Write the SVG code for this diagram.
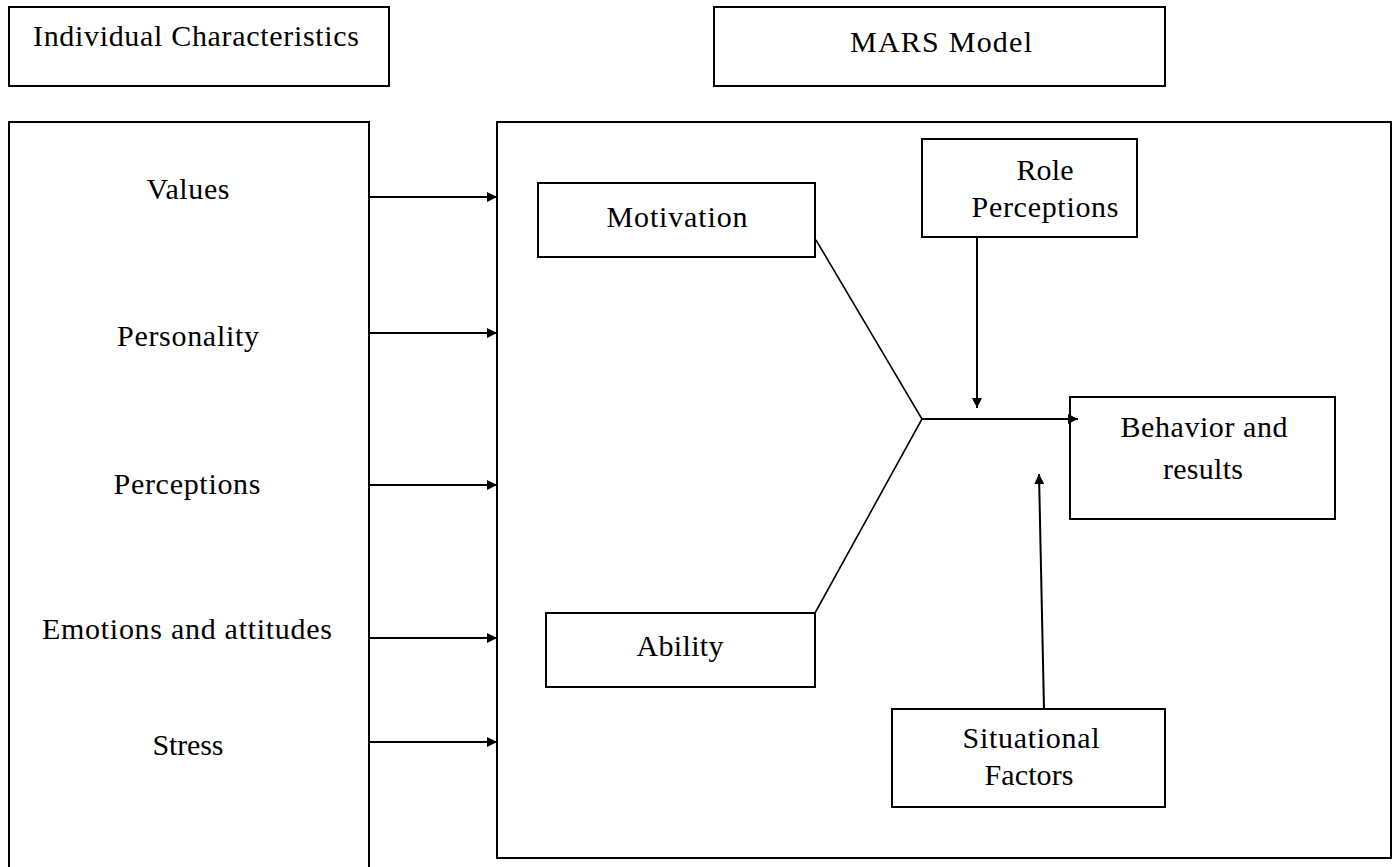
<svg xmlns="http://www.w3.org/2000/svg" width="1398" height="867" viewBox="0 0 1398 867">
  <style>
    .box { fill: #ffffff; stroke: #000000; stroke-width: 2; }
    .frame { fill: none; stroke: #000000; stroke-width: 2; }
    .lbl { font-family: "Liberation Serif", "Times New Roman", serif; font-size: 30px; fill: #000000; text-anchor: middle; }
    .conn { stroke: #000000; stroke-width: 2; fill: none; }
    .thin { stroke: #000000; stroke-width: 1.6; fill: none; }
  </style>
  <defs>
    <marker id="arrow" markerUnits="userSpaceOnUse" markerWidth="12" markerHeight="10" refX="10" refY="5" orient="auto">
      <path d="M0,0 L10,5 L0,10 Z" fill="#000000"/>
    </marker>
  </defs>
  <rect x="0" y="0" width="1398" height="867" fill="#ffffff"/>

  <g id="individual-characteristics-title">
    <rect class="box" x="9" y="7" width="380" height="79"/>
    <text class="lbl" x="196" y="46" textLength="326" lengthAdjust="spacing">Individual Characteristics</text>
  </g>

  <g id="mars-model-title">
    <rect class="box" x="714" y="7" width="451" height="79"/>
    <text class="lbl" x="941" y="52" textLength="182" lengthAdjust="spacing">MARS Model</text>
  </g>

  <g id="individual-panel">
    <path class="frame" d="M9,870 L9,122 L369,122 L369,870"/>
    <text class="lbl" x="188" y="199" textLength="83" lengthAdjust="spacing">Values</text>
    <text class="lbl" x="188" y="346" textLength="142" lengthAdjust="spacing">Personality</text>
    <text class="lbl" x="187" y="494" textLength="147" lengthAdjust="spacing">Perceptions</text>
    <text class="lbl" x="187" y="639" textLength="290" lengthAdjust="spacing">Emotions and attitudes</text>
    <text class="lbl" x="188" y="755" textLength="71" lengthAdjust="spacing">Stress</text>
  </g>

  <g id="mars-panel">
    <rect class="frame" x="497" y="122" width="894" height="736"/>
  </g>

  <g id="motivation">
    <rect class="box" x="538" y="183" width="277" height="74"/>
    <text class="lbl" x="677" y="227" textLength="141" lengthAdjust="spacing">Motivation</text>
  </g>

  <g id="role-perceptions">
    <rect class="box" x="922" y="139" width="215" height="98"/>
    <text class="lbl" x="1045" y="180" textLength="57" lengthAdjust="spacing">Role</text>
    <text class="lbl" x="1045" y="217" textLength="147" lengthAdjust="spacing">Perceptions</text>
  </g>

  <g id="behavior-results">
    <rect class="box" x="1070" y="397" width="265" height="122"/>
    <text class="lbl" x="1204" y="437" textLength="167" lengthAdjust="spacing">Behavior and</text>
    <text class="lbl" x="1203" y="479" textLength="80" lengthAdjust="spacing">results</text>
  </g>

  <g id="ability">
    <rect class="box" x="546" y="613" width="269" height="74"/>
    <text class="lbl" x="680" y="656" textLength="87" lengthAdjust="spacing">Ability</text>
  </g>

  <g id="situational-factors">
    <rect class="box" x="892" y="709" width="273" height="98"/>
    <text class="lbl" x="1031" y="748" textLength="137" lengthAdjust="spacing">Situational</text>
    <text class="lbl" x="1029" y="785" textLength="89" lengthAdjust="spacing">Factors</text>
  </g>

  <g id="connectors">
    <line class="conn" x1="369" y1="197" x2="497" y2="197" marker-end="url(#arrow)"/>
    <line class="conn" x1="369" y1="333" x2="497" y2="333" marker-end="url(#arrow)"/>
    <line class="conn" x1="369" y1="485" x2="497" y2="485" marker-end="url(#arrow)"/>
    <line class="conn" x1="369" y1="638" x2="497" y2="638" marker-end="url(#arrow)"/>
    <line class="conn" x1="369" y1="742" x2="497" y2="742" marker-end="url(#arrow)"/>
    <polyline class="thin" points="816,240 922,419 815,613"/>
    <line class="conn" x1="922" y1="419" x2="1078" y2="419" marker-end="url(#arrow)"/>
    <line class="conn" x1="977" y1="237" x2="977" y2="408" marker-end="url(#arrow)"/>
    <line class="conn" x1="1044" y1="709" x2="1039" y2="474" marker-end="url(#arrow)"/>
  </g>
</svg>
